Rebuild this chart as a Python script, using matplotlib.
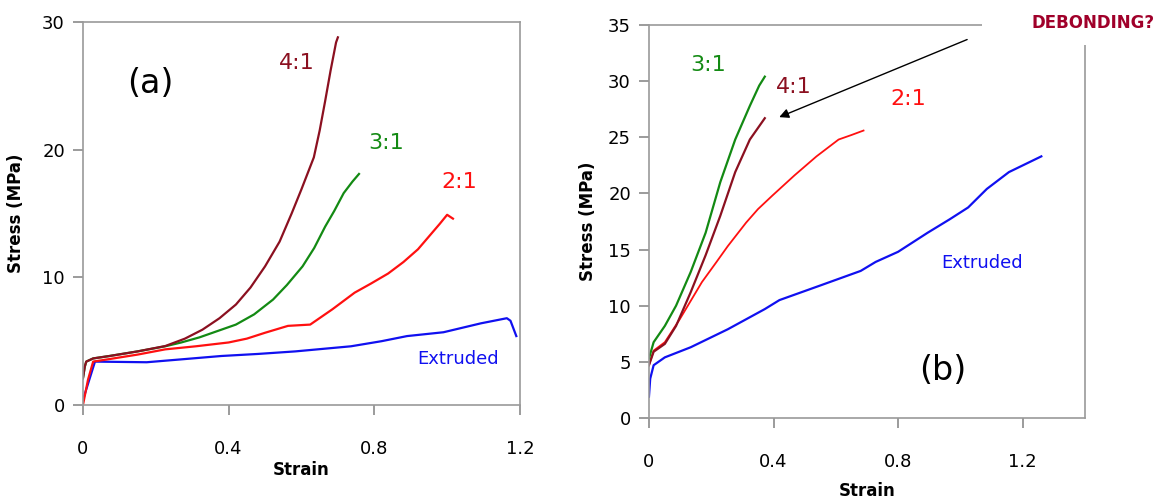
import matplotlib as mpl
mpl.use('Agg')
import matplotlib.pyplot as plt
from matplotlib.patches import Rectangle

# panel (a) - strain / stress
a41_x = [0, 0.005, 0.009, 0.028, 0.073, 0.15, 0.226, 0.28, 0.328, 0.375, 0.42, 0.46, 0.50,
         0.54, 0.573, 0.60, 0.634, 0.65, 0.665, 0.68, 0.695, 0.70]
a41_y = [2.1, 3.0, 3.4, 3.65, 3.84, 4.2, 4.62, 5.2, 5.9, 6.8, 7.87, 9.2, 10.86,
         12.8, 15.0, 16.9, 19.4, 21.5, 23.8, 26.2, 28.4, 28.8]
a31_x = [0, 0.005, 0.009, 0.028, 0.073, 0.15, 0.226, 0.27, 0.32, 0.37, 0.42, 0.47, 0.522,
         0.56, 0.603, 0.635, 0.665, 0.69, 0.716, 0.74, 0.758]
a31_y = [2.1, 3.0, 3.4, 3.65, 3.84, 4.2, 4.6, 4.9, 5.3, 5.8, 6.3, 7.1, 8.26,
         9.4, 10.86, 12.3, 13.97, 15.2, 16.6, 17.5, 18.1]
a21_x = [0, 0.014, 0.028, 0.073, 0.15, 0.226, 0.31, 0.40, 0.45, 0.50, 0.563, 0.624, 0.685,
         0.746, 0.79, 0.838, 0.88, 0.92, 0.95, 0.98, 1.00, 1.016]
a21_y = [0, 2.0, 3.4, 3.6, 3.95, 4.36, 4.6, 4.9, 5.2, 5.66, 6.2, 6.3, 7.5,
         8.8, 9.5, 10.3, 11.2, 12.2, 13.2, 14.2, 14.9, 14.6]
aex_x = [0, 0.033, 0.175, 0.28, 0.38, 0.48, 0.583, 0.736, 0.82, 0.89, 0.99, 1.093, 1.164,
         1.174, 1.19]
aex_y = [0.4, 3.4, 3.35, 3.6, 3.84, 4.0, 4.2, 4.6, 5.0, 5.4, 5.7, 6.4, 6.8,
         6.6, 5.4]

# panel (b)
b31_x = [0, 0.015, 0.051, 0.087, 0.134, 0.182, 0.229, 0.277, 0.324, 0.354, 0.372]
b31_y = [5.3, 6.75, 8.2, 10.0, 13.0, 16.5, 21.0, 24.8, 27.8, 29.6, 30.4]
b41_x = [0, 0.015, 0.051, 0.087, 0.134, 0.182, 0.229, 0.277, 0.324, 0.372]
b41_y = [4.7, 5.9, 6.6, 8.2, 11.2, 14.5, 18.0, 21.9, 24.8, 26.7]
b21_x = [0, 0.015, 0.051, 0.099, 0.17, 0.217, 0.253, 0.312, 0.35, 0.396, 0.467, 0.538,
         0.609, 0.65, 0.689]
b21_y = [4.7, 6.0, 6.75, 8.8, 12.1, 13.9, 15.3, 17.4, 18.6, 19.8, 21.6, 23.3,
         24.8, 25.2, 25.6]
bex_x = [0, 0.004, 0.015, 0.051, 0.134, 0.253, 0.372, 0.419, 0.55, 0.61, 0.68, 0.728, 0.80, 0.895,
         0.966, 1.025, 1.085, 1.156, 1.26]
bex_y = [1.9, 3.5, 4.7, 5.4, 6.3, 7.9, 9.7, 10.5, 11.8, 12.4, 13.1, 13.9, 14.8, 16.5,
         17.7, 18.75, 20.4, 21.9, 23.3]

c_41 = '#8b1020'
c_31 = '#138a13'
c_21 = '#ff1010'
c_ex = '#1010f0'


def style(ax):
    for s in ax.spines.values():
        s.set_color('#9a9a9a')
        s.set_linewidth(1.2)
    ax.tick_params(direction='out', length=7, width=1.2, color='#8a8a8a',
                   labelsize=13)
    ax.tick_params(axis='x', pad=18)
    ax.tick_params(axis='y', pad=6)
    ax.set_xlabel('Strain', fontsize=12, fontweight='bold')
    ax.set_ylabel('Stress (MPa)', fontsize=12, fontweight='bold')


fig = plt.figure(figsize=(11.57, 5.03), dpi=100)

##########

ax = fig.add_axes([0.0717, 0.1948, 0.3777, 0.7614])
ax.plot(aex_x, aex_y, color=c_ex, lw=1.6)
ax.plot(a21_x, a21_y, color=c_21, lw=1.6)
ax.plot(a31_x, a31_y, color=c_31, lw=1.6)
ax.plot(a41_x, a41_y, color=c_41, lw=1.6)
ax.set_xlim(0, 1.2)
ax.set_ylim(0, 30)
ax.set_xticks([0, 0.4, 0.8, 1.2])
ax.set_xticklabels(['0', '0.4', '0.8', '1.2'])
ax.set_yticks([0, 10, 20, 30])
style(ax)
ax.xaxis.labelpad = 2
ax.yaxis.labelpad = 12

ax.text(0.185, 25.2, '(a)', fontsize=24, ha='center', va='center')
ax.text(0.588, 26.8, '4:1', color=c_41, fontsize=16, ha='center', va='center')
ax.text(0.833, 20.5, '3:1', color=c_31, fontsize=16, ha='center', va='center')
ax.text(1.034, 17.5, '2:1', color=c_21, fontsize=16, ha='center', va='center')
ax.text(1.03, 3.6, 'Extruded', color=c_ex, fontsize=13, ha='center', va='center')

##########

ax2 = fig.add_axes([0.5609, 0.169, 0.3768, 0.7813])
ax2.plot(bex_x, bex_y, color=c_ex, lw=1.6)
ax2.plot(b21_x, b21_y, color=c_21, lw=1.3)
ax2.plot(b41_x, b41_y, color=c_41, lw=1.6)
ax2.plot(b31_x, b31_y, color=c_31, lw=1.6)
ax2.set_xlim(0, 1.4)
ax2.set_ylim(0, 35)
ax2.set_xticks([0, 0.4, 0.8, 1.2])
ax2.set_xticklabels(['0', '0.4', '0.8', '1.2'])
ax2.set_yticks(range(0, 36, 5))
style(ax2)
ax2.xaxis.labelpad = 8
ax2.yaxis.labelpad = 8

ax2.text(0.19, 31.4, '3:1', color=c_31, fontsize=16, ha='center', va='center')
ax2.text(0.465, 29.5, '4:1', color=c_41, fontsize=16, ha='center', va='center')
ax2.text(0.834, 28.4, '2:1', color=c_21, fontsize=16, ha='center', va='center')
ax2.text(1.07, 13.8, 'Extruded', color=c_ex, fontsize=13, ha='center', va='center')
ax2.text(0.943, 4.2, '(b)', fontsize=24, ha='center', va='center')

ax2.annotate('', xy=(0.41, 26.7), xytext=(1.03, 33.8),
             arrowprops=dict(arrowstyle='-|>', color='black', lw=1.0,
                             mutation_scale=14))

# white patch hiding the top-right corner of the frame behind the note
fig.patches.append(Rectangle((0.849, 0.91), 0.151, 0.09, transform=fig.transFigure,
                             facecolor='white', edgecolor='none', zorder=5))
fig.text(0.945, 0.955, 'DEBONDING?', color='#a0002a', fontsize=12,
         fontweight='bold', ha='center', va='center', zorder=10)

fig.savefig('out.png', dpi=100)
